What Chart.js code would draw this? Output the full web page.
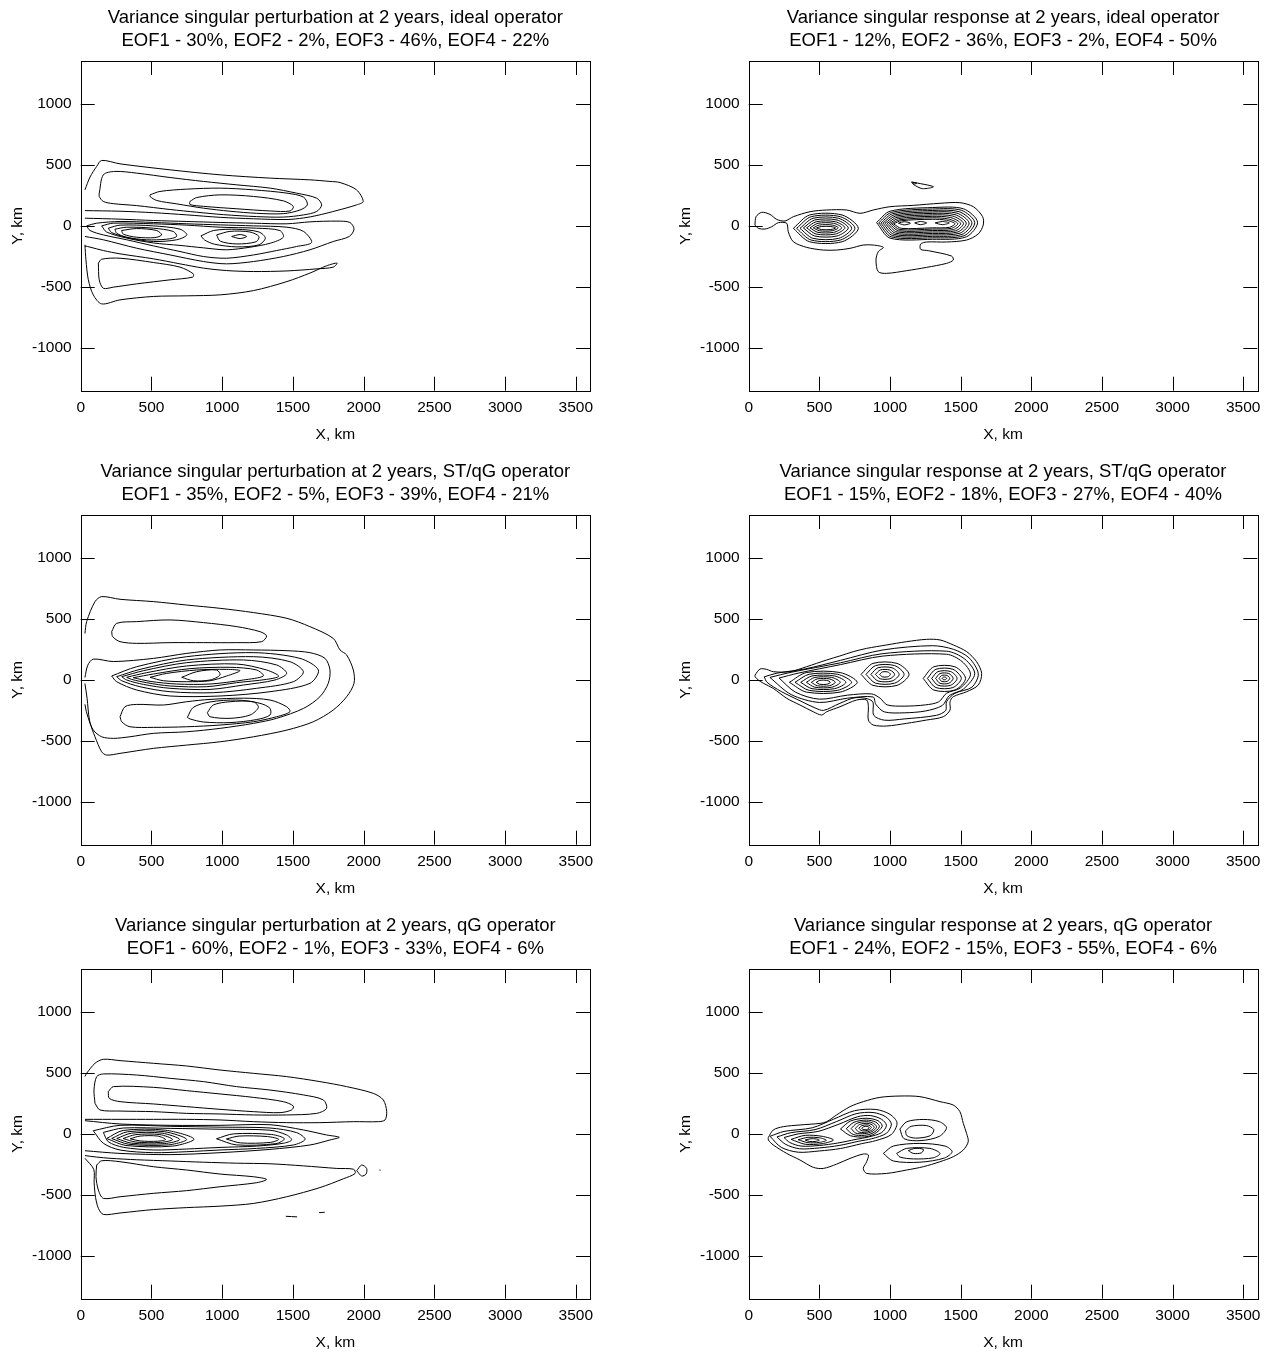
<!DOCTYPE html>
<html>
<head>
<meta charset="utf-8">
<script src="https://cdn.jsdelivr.net/npm/chart.js@4.4.1/dist/chart.umd.min.js"></script>
<style>
  html, body { margin: 0; padding: 0; background: #fff; overflow: hidden; }
  #sheet { position: relative; width: 1272px; height: 1356px; }
  #sheet canvas { position: absolute; }
</style>
</head>
<body>
<div id="sheet"></div>
<script>
// axes
const xTicks = [0, 500, 1000, 1500, 2000, 2500, 3000, 3500]
const yTicks = [-1000, -500, 0, 500, 1000]
const xRange = [0, 3600]
const yRange = [-1350, 1350]

const titles = [
  'Variance singular perturbation at 2 years, ideal operator',
  'Variance singular response at 2 years, ideal operator',
  'Variance singular perturbation at 2 years, ST/qG operator',
  'Variance singular response at 2 years, ST/qG operator',
  'Variance singular perturbation at 2 years, qG operator',
  'Variance singular response at 2 years, qG operator'
]
const eofShares = [
  [30, 2, 46, 22],
  [12, 36, 2, 50],
  [35, 5, 39, 21],
  [15, 18, 27, 40],
  [60, 1, 33, 6],
  [24, 15, 55, 6]
]

// contour lines, km: [x0, y0, x1, y1, ...]
const perturbIdeal = [
  [30,295, 66,400, 113,487, 148,536, 278,508, 632,459, 986,418, 1340,391, 1620,377, 1762,364, 1833,355, 1950,295, 1997,200, 1950,172, 1812,126, 1670,85, 1576,65, 1458,52, 1222,58, 986,70, 750,90, 514,108, 278,120, 30,125],
  [131,268, 160,418, 242,446, 396,432, 632,396, 868,364, 1104,336, 1340,309, 1526,268, 1668,227, 1703,172, 1668,118, 1576,90, 1432,72, 1244,76, 1008,92, 820,112, 632,134, 396,166, 230,182, 160,200, 131,241, 131,268],
  [490,254, 560,282, 750,301, 986,309, 1222,295, 1458,268, 1576,235, 1602,172, 1550,130, 1432,100, 1244,103, 1055,120, 868,145, 680,180, 537,208, 490,241, 490,254],
  [772,200, 820,232, 986,254, 1222,241, 1432,205, 1503,159, 1480,122, 1340,122, 1104,140, 868,160, 772,175, 772,200],
  [30,63, 278,55, 514,44, 750,36, 986,28, 1222,22, 1458,17, 1620,33, 1812,39, 1903,28, 1932,-27, 1898,-87, 1785,-128, 1620,-196, 1432,-251, 1222,-292, 1031,-311, 868,-292, 632,-238, 396,-183, 160,-114, 30,-87],
  [42,0, 113,22, 278,36, 514,28, 750,17, 986,8, 1222,0, 1458,-11, 1576,-46, 1632,-136, 1526,-169, 1385,-202, 1222,-238, 1031,-265, 868,-251, 702,-210, 514,-164, 325,-114, 160,-74, 66,-38, 42,0],
  [148,0, 230,22, 514,17, 750,6, 986,-11, 1244,-19, 1408,-38, 1432,-93, 1340,-142, 1196,-175, 1031,-196, 868,-180, 702,-160, 514,-140, 325,-100, 183,-50, 148,0],
  [195,-19, 278,6, 514,0, 702,-27, 750,-74, 678,-114, 514,-128, 348,-101, 219,-55, 195,-19],
  [242,-27, 325,-11, 514,-19, 655,-46, 678,-87, 608,-109, 466,-114, 325,-93, 254,-60, 242,-27],
  [289,-38, 396,-22, 537,-38, 572,-74, 525,-96, 396,-93, 301,-68, 289,-38],
  [850,-82, 940,-38, 1104,-28, 1260,-50, 1305,-100, 1260,-155, 1104,-172, 945,-150, 875,-115, 850,-82],
  [961,-74, 1055,-45, 1196,-50, 1260,-87, 1240,-130, 1104,-148, 986,-125, 961,-74],
  [1067,-87, 1126,-71, 1173,-87, 1126,-104, 1067,-87],
  [30,-155, 37,-278, 54,-442, 89,-565, 148,-639, 278,-606, 514,-578, 750,-573, 986,-565, 1222,-530, 1458,-456, 1620,-387, 1738,-327, 1812,-305, 1785,-338, 1670,-352, 1458,-369, 1222,-374, 1031,-366, 868,-346, 702,-311, 514,-270, 278,-229, 160,-202, 66,-174, 30,-164],
  [125,-305, 148,-273, 278,-265, 514,-300, 702,-338, 796,-393, 791,-420, 632,-442, 396,-475, 230,-502, 160,-511, 131,-442, 125,-305]
]

const responseIdeal = [
  [44,7, 52,75, 92,111, 151,94, 198,53, 257,40, 316,75, 434,116, 552,130, 693,130, 788,103, 882,130, 1000,157, 1165,168, 1354,185, 1495,190, 1590,157, 1656,75, 1660,7, 1625,-66, 1542,-116, 1401,-132, 1259,-132, 1217,-149, 1217,-192, 1271,-203, 1436,-247, 1448,-280, 1401,-307, 1259,-340, 1118,-367, 976,-389, 917,-375, 901,-280, 917,-211, 953,-176, 882,-157, 811,-157, 717,-184, 622,-198, 528,-198, 410,-176, 316,-130, 280,-48, 269,21, 210,26, 163,-7, 115,-26, 68,-20, 44,7],
  [316,-20, 431,89, 661,89, 776,-20, 661,-130, 431,-130, 316,-20],
  [339,-20, 442,75, 649,75, 752,-20, 649,-116, 442,-116, 339,-20],
  [363,-20, 455,62, 637,62, 729,-20, 637,-102, 455,-102, 363,-20],
  [387,-17, 467,48, 625,48, 705,-17, 625,-83, 467,-83, 387,-17],
  [410,-16, 478,34, 613,34, 681,-16, 613,-67, 478,-67, 410,-16],
  [434,-16, 490,21, 602,21, 658,-16, 602,-53, 490,-53, 434,-16],
  [457,-16, 501,7, 590,7, 634,-16, 590,-40, 501,-40, 457,-16],
  [480,-17, 514,-5, 581,-5, 615,-17, 581,-30, 514,-30, 480,-17],
  [905,27, 1000,120, 1300,150, 1520,140, 1620,30, 1540,-90, 1300,-110, 1000,-100, 905,27],
  [920,25, 1010,110, 1300,138, 1505,128, 1600,28, 1525,-80, 1300,-98, 1010,-90, 920,25],
  [935,23, 1020,100, 1300,126, 1490,116, 1580,26, 1510,-70, 1300,-86, 1020,-80, 935,23],
  [950,22, 1030,90, 1300,114, 1475,104, 1560,24, 1495,-60, 1300,-74, 1030,-70, 950,22],
  [965,21, 1040,80, 1300,102, 1460,92, 1540,22, 1480,-50, 1300,-62, 1040,-60, 965,21],
  [980,20, 1050,70, 1300,90, 1445,80, 1520,21, 1465,-40, 1300,-50, 1050,-50, 980,20],
  [995,19, 1060,60, 1300,78, 1430,68, 1500,20, 1450,-30, 1300,-38, 1060,-40, 995,19],
  [1010,18, 1070,50, 1300,66, 1415,56, 1480,19, 1435,-20, 1300,-26, 1070,-30, 1010,18],
  [1025,17, 1080,42, 1300,54, 1400,46, 1460,18, 1420,-12, 1300,-16, 1080,-20, 1025,17],
  [1060,22, 1100,34, 1145,22, 1100,8, 1060,22],
  [1175,24, 1215,36, 1260,24, 1215,10, 1175,24],
  [1320,24, 1370,36, 1420,24, 1370,10, 1320,24],
  [1153,360, 1307,321, 1230,305, 1165,340, 1153,360],
  [1160,356, 1190,350, 1170,343, 1160,356]
]

const perturbStqg = [
  [30,380, 42,477, 101,641, 148,682, 278,660, 514,641, 750,613, 986,586, 1222,551, 1458,504, 1620,436, 1785,340, 1833,245, 1880,204, 1927,81, 1932,-28, 1880,-138, 1785,-247, 1644,-343, 1458,-411, 1222,-466, 986,-507, 750,-534, 514,-561, 278,-602, 183,-616, 148,-589, 101,-466, 66,-356, 40,-260, 30,-200],
  [30,20, 50,120, 89,170, 231,150, 514,176, 750,217, 986,245, 1222,245, 1458,239, 1620,223, 1727,176, 1762,81, 1750,-28, 1691,-138, 1576,-233, 1385,-315, 1222,-356, 986,-397, 750,-425, 514,-438, 348,-466, 231,-479, 148,-466, 89,-411, 62,-329, 45,-150, 30,-30],
  [219,395, 254,463, 396,477, 632,491, 868,469, 1104,436, 1267,395, 1314,360, 1279,313, 1104,305, 868,305, 632,305, 396,299, 278,313, 226,354, 219,395],
  [219,32, 396,108, 749,190, 1220,223, 1550,176, 1680,81, 1621,-28, 1338,-97, 985,-132, 632,-132, 396,-83, 254,-15, 219,32],
  [254,26, 419,86, 749,163, 1220,190, 1479,149, 1574,67, 1503,-15, 1244,-69, 937,-105, 632,-97, 419,-56, 290,-7, 254,26],
  [290,26, 443,75, 749,141, 1150,163, 1385,122, 1456,53, 1373,-1, 1150,-42, 914,-78, 632,-69, 443,-37, 325,-1, 290,26],
  [325,21, 466,59, 749,114, 1102,130, 1314,81, 1400,30, 1314,4, 1102,-23, 890,-56, 632,-50, 466,-23, 360,4, 325,21],
  [372,18, 514,48, 773,92, 1055,103, 1244,81, 1291,32, 1150,-1, 914,-34, 678,-34, 490,-12, 372,18],
  [490,21, 608,53, 820,81, 1032,86, 1126,75, 1032,32, 914,-7, 749,-15, 584,-7, 490,21],
  [714,21, 820,67, 961,81, 985,40, 914,-1, 796,-7, 714,21],
  [278,-302, 313,-220, 396,-201, 584,-206, 749,-179, 914,-160, 1150,-150, 1338,-165, 1456,-220, 1479,-261, 1385,-302, 1220,-343, 985,-370, 749,-384, 514,-389, 348,-384, 290,-343, 278,-302],
  [754,-307, 796,-225, 914,-181, 1102,-165, 1267,-192, 1338,-233, 1338,-288, 1244,-325, 1055,-350, 867,-345, 773,-320, 754,-307],
  [895,-269, 937,-206, 1055,-179, 1220,-179, 1256,-225, 1197,-288, 1055,-315, 914,-302, 895,-269]
]

const responseStqg = [
  [45,40, 80,89, 127,86, 174,67, 292,67, 410,108, 552,163, 646,196, 740,231, 835,258, 976,286, 1118,313, 1259,332, 1354,327, 1448,286, 1543,231, 1613,149, 1649,53, 1625,-42, 1543,-97, 1448,-138, 1425,-179, 1425,-247, 1377,-302, 1259,-329, 1118,-356, 976,-378, 882,-370, 847,-329, 847,-220, 835,-165, 764,-165, 646,-220, 552,-261, 516,-288, 457,-261, 363,-206, 269,-151, 174,-70, 104,-28, 68,-1, 45,26, 45,40],
  [110,25, 200,55, 400,90, 650,160, 950,245, 1300,280, 1450,250, 1560,180, 1625,50, 1580,-60, 1460,-110, 1400,-180, 1395,-250, 1330,-290, 1100,-320, 960,-330, 885,-290, 875,-175, 760,-145, 640,-195, 530,-250, 470,-230, 370,-175, 230,-95, 130,-20, 110,25],
  [150,20, 300,62, 650,140, 950,215, 1400,235, 1530,170, 1600,50, 1520,-75, 1420,-128, 1370,-210, 1250,-255, 1100,-270, 960,-262, 900,-200, 880,-140, 700,-150, 500,-185, 300,-120, 150,20],
  [215,15, 350,55, 650,125, 950,195, 1400,210, 1510,150, 1570,45, 1500,-65, 1400,-110, 1345,-180, 1250,-205, 1100,-215, 980,-205, 930,-150, 870,-115, 700,-125, 500,-158, 330,-100, 215,15],
  [288,-20, 408,60, 648,60, 768,-20, 648,-100, 408,-100, 288,-20],
  [328,-20, 428,46, 628,46, 728,-20, 628,-86, 428,-86, 328,-20],
  [368,-20, 448,32, 608,32, 688,-20, 608,-72, 448,-72, 368,-20],
  [408,-20, 468,20, 588,20, 648,-20, 588,-60, 468,-60, 408,-20],
  [443,-20, 486,8, 571,8, 613,-20, 571,-48, 486,-48, 443,-20],
  [478,-20, 503,-4, 553,-4, 578,-20, 553,-36, 503,-36, 478,-20],
  [795,45, 880,135, 1050,135, 1135,45, 1050,-45, 880,-45, 795,45],
  [830,45, 898,117, 1033,117, 1100,45, 1033,-27, 898,-27, 830,45],
  [865,45, 915,99, 1015,99, 1065,45, 1015,-9, 915,-9, 865,45],
  [897,45, 931,81, 999,81, 1033,45, 999,9, 931,9, 897,45],
  [927,45, 946,65, 984,65, 1003,45, 984,25, 946,25, 927,45],
  [1235,12, 1310,107, 1460,107, 1535,12, 1460,-83, 1310,-83, 1235,12],
  [1265,12, 1325,87, 1445,87, 1505,12, 1445,-63, 1325,-63, 1265,12],
  [1295,12, 1340,68, 1430,68, 1475,12, 1430,-44, 1340,-44, 1295,12],
  [1323,12, 1354,52, 1416,52, 1447,12, 1416,-28, 1354,-28, 1323,12],
  [1347,12, 1366,36, 1404,36, 1423,12, 1404,-12, 1366,-12, 1347,12],
  [1369,12, 1377,22, 1393,22, 1401,12, 1393,2, 1377,2, 1369,12]
]

const perturbQg = [
  [30,470, 42,496, 101,578, 160,611, 278,600, 514,578, 749,556, 985,523, 1220,496, 1456,469, 1691,428, 1880,387, 2068,332, 2139,278, 2163,182, 2151,114, 2104,100, 1927,100, 1691,92, 1456,92, 1220,100, 985,114, 749,119, 514,119, 278,119, 30,119],
  [101,250, 94,359, 113,469, 160,491, 396,482, 632,455, 867,428, 1102,387, 1338,359, 1574,319, 1715,278, 1738,209, 1668,168, 1456,155, 1220,155, 985,163, 749,168, 514,182, 278,187, 136,196, 101,250],
  [195,346, 231,387, 514,381, 749,354, 985,327, 1220,299, 1432,264, 1503,228, 1491,196, 1409,174, 1220,182, 985,201, 749,223, 514,245, 278,264, 202,291, 195,346],
  [30,108, 278,81, 632,70, 985,70, 1338,75, 1574,32, 1738,-9, 1828,-28, 1762,-50, 1621,-91, 1338,-127, 985,-154, 632,-170, 278,-160, 30,-138],
  [89,26, 278,70, 632,62, 985,55, 1338,48, 1527,10, 1586,-45, 1503,-91, 1244,-119, 985,-132, 749,-146, 514,-154, 278,-132, 160,-77, 89,26],
  [160,12, 301,48, 632,45, 985,38, 1338,30, 1456,-9, 1491,-50, 1432,-77, 1244,-100, 985,-111, 749,-124, 514,-132, 301,-110, 195,-64, 160,12],
  [184,-38, 300,28, 600,30, 801,-42, 650,-100, 320,-95, 184,-38],
  [219,-38, 330,17, 590,18, 749,-45, 620,-90, 340,-85, 219,-38],
  [255,-38, 360,6, 575,6, 700,-46, 590,-80, 360,-76, 255,-38],
  [300,-38, 390,-6, 560,-6, 650,-46, 565,-70, 390,-67, 300,-38],
  [350,-40, 420,-18, 545,-18, 600,-46, 545,-60, 420,-58, 350,-40],
  [960,-40, 1080,0, 1350,-5, 1440,-40, 1380,-80, 1100,-90, 960,-40],
  [1030,-42, 1120,-18, 1320,-22, 1400,-45, 1340,-70, 1130,-74, 1030,-42],
  [30,-200, 92,-290, 95,-400, 105,-520, 125,-610, 160,-660, 278,-648, 514,-620, 749,-604, 985,-592, 1220,-570, 1456,-515, 1691,-440, 1856,-368, 1939,-325, 1930,-290, 1810,-283, 1574,-262, 1338,-245, 1102,-240, 867,-232, 632,-222, 396,-212, 207,-200, 113,-190, 30,-178],
  [113,-255, 148,-220, 278,-228, 514,-269, 749,-296, 985,-329, 1220,-351, 1314,-373, 1244,-400, 985,-433, 749,-465, 514,-487, 278,-515, 160,-528, 125,-460, 108,-351, 113,-255],
  [1951,-302, 1986,-255, 2021,-283, 2017,-329, 1986,-345, 1951,-302],
  [2112,-296, 2120,-298],
  [1450,-675, 1530,-680],
  [1685,-645, 1725,-642]
]

const responseQg = [
  [139,-29, 174,32, 245,59, 363,73, 505,86, 552,100, 622,155, 717,223, 811,264, 929,299, 1071,310, 1212,305, 1354,264, 1448,236, 1495,182, 1519,86, 1542,4, 1554,-64, 1519,-132, 1448,-187, 1354,-228, 1236,-269, 1118,-296, 976,-324, 835,-324, 811,-283, 835,-228, 847,-173, 811,-165, 717,-201, 622,-248, 528,-283, 457,-274, 363,-214, 269,-160, 174,-91, 139,-50, 139,-29],
  [151,-20, 250,20, 450,50, 600,120, 750,190, 900,200, 1000,160, 1050,90, 1010,-5, 900,-55, 800,-80, 650,-120, 500,-140, 350,-150, 230,-110, 151,-20],
  [200,-25, 300,10, 470,35, 620,100, 760,165, 880,175, 970,140, 1010,80, 975,5, 870,-40, 780,-60, 640,-95, 500,-115, 360,-122, 260,-85, 200,-25],
  [250,-30, 350,0, 490,20, 640,80, 770,140, 860,150, 940,120, 975,70, 940,10, 850,-25, 760,-45, 630,-75, 500,-95, 370,-100, 290,-70, 250,-30],
  [300,-45, 400,-12, 520,-20, 600,-50, 520,-80, 400,-85, 300,-45],
  [350,-48, 420,-28, 500,-32, 550,-52, 500,-70, 420,-72, 350,-48],
  [400,-50, 440,-40, 480,-42, 500,-52, 470,-62, 430,-62, 400,-50],
  [650,40, 720,105, 830,128, 915,108, 945,62, 890,0, 820,-25, 720,-15, 650,40],
  [690,42, 745,95, 832,113, 900,96, 925,58, 880,8, 818,-12, 740,-5, 690,42],
  [725,44, 765,86, 835,100, 885,85, 905,55, 872,18, 818,2, 758,6, 725,44],
  [755,45, 785,77, 837,87, 873,75, 888,52, 864,26, 820,12, 778,16, 755,45],
  [780,46, 800,67, 838,74, 860,65, 868,50, 852,34, 822,24, 795,28, 780,46],
  [800,47, 815,59, 838,62, 850,56, 853,48, 843,39, 824,34, 808,37, 800,47],
  [1070,40, 1120,100, 1240,118, 1350,100, 1400,50, 1350,-20, 1220,-55, 1100,-40, 1070,40],
  [1110,25, 1150,62, 1259,68, 1310,35, 1285,-15, 1180,-35, 1120,-15, 1110,25],
  [953,-160, 1023,-100, 1212,-78, 1390,-100, 1440,-146, 1385,-198, 1212,-232, 1023,-222, 953,-160],
  [1047,-160, 1118,-119, 1283,-119, 1354,-160, 1307,-196, 1165,-205, 1071,-190, 1047,-160],
  [1130,-137, 1177,-119, 1236,-127, 1224,-155, 1165,-160, 1130,-137]
]

const panels = [perturbIdeal, responseIdeal, perturbStqg, responseStqg, perturbQg, responseQg]

const fontFamily = "'Liberation Sans', Arial, Helvetica, sans-serif"

// box round the plot, ticks pointing inward on all four sides
const framePlugin = {
  id: 'frame',
  afterDatasetsDraw(chart) {
    const { ctx, chartArea: a, scales: { x, y } } = chart
    const snap = v => Math.round(v) + 0.5
    const tl = 14
    ctx.save()
    ctx.strokeStyle = '#000'
    ctx.lineWidth = 1
    ctx.strokeRect(snap(a.left), snap(a.top), Math.round(a.right - a.left), Math.round(a.bottom - a.top))
    ctx.beginPath()
    xTicks.forEach(v => {
      const px = snap(x.getPixelForValue(v))
      ctx.moveTo(px, a.bottom); ctx.lineTo(px, a.bottom - tl)
      ctx.moveTo(px, a.top); ctx.lineTo(px, a.top + tl)
    })
    yTicks.forEach(v => {
      const py = snap(y.getPixelForValue(v))
      ctx.moveTo(a.left, py); ctx.lineTo(a.left + tl, py)
      ctx.moveTo(a.right, py); ctx.lineTo(a.right - tl, py)
    })
    ctx.stroke()
    ctx.restore()
  }
}

function toPoints(flat) {
  const pts = []
  for (let i = 0; i < flat.length; i += 2) pts.push({ x: flat[i], y: flat[i + 1] })
  return pts
}

const sheet = document.getElementById('sheet')

panels.forEach((contours, i) => {
  const col = i % 2
  const row = Math.floor(i / 2)
  const canvas = document.createElement('canvas')
  canvas.width = 636
  canvas.height = 448
  canvas.style.left = col * 636 + 'px'
  canvas.style.top = row * 454 + 'px'
  sheet.appendChild(canvas)

  const shares = eofShares[i]
  const subtitle = shares.map((s, k) => 'EOF' + (k + 1) + ' - ' + s + '%').join(', ')

  new Chart(canvas.getContext('2d'), {
    type: 'scatter',
    data: {
      datasets: contours.map(c => ({
        data: toPoints(c),
        showLine: true,
        pointRadius: 0,
        borderColor: '#000',
        borderWidth: 1,
        tension: 0.3,
        fill: false
      }))
    },
    options: {
      responsive: false,
      animation: false,
      devicePixelRatio: 1,
      layout: { padding: { left: col ? 32 : 0, right: col ? 14.7 : 46, top: 0, bottom: 0 } },
      plugins: {
        legend: { display: false },
        tooltip: { enabled: false },
        title: {
          display: true,
          fullSize: false,
          text: [titles[i], subtitle],
          color: '#000',
          font: { family: fontFamily, size: 18.5, weight: 'normal', lineHeight: 1.25 },
          padding: { top: 6, bottom: 8.8 }
        }
      },
      scales: {
        x: {
          type: 'linear',
          min: xRange[0],
          max: xRange[1],
          grid: { display: false, drawTicks: false },
          border: { display: false },
          afterBuildTicks: s => { s.ticks = xTicks.map(v => ({ value: v })) },
          afterFit: s => { s.height = 57.3 },
          ticks: { color: '#000', font: { family: fontFamily, size: 15.5 }, padding: 8, maxRotation: 0, autoSkip: false, callback: v => String(v) },
          title: { display: true, text: 'X, km', color: '#000', font: { family: fontFamily, size: 15.5 }, padding: { top: 0, bottom: 4 } }
        },
        y: {
          type: 'linear',
          min: yRange[0],
          max: yRange[1],
          grid: { display: false, drawTicks: false },
          border: { display: false },
          afterBuildTicks: s => { s.ticks = yTicks.map(v => ({ value: v })) },
          afterFit: s => { s.width = 80.7 },
          ticks: { color: '#000', font: { family: fontFamily, size: 15.5 }, padding: 9, autoSkip: false, callback: v => String(v) },
          title: { display: true, text: 'Y, km', color: '#000', font: { family: fontFamily, size: 15.5 }, padding: { top: 8, bottom: 0 } }
        }
      }
    },
    plugins: [framePlugin]
  })
})
</script>
</body>
</html>
